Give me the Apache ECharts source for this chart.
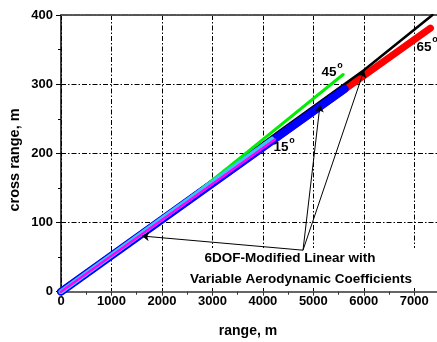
<!DOCTYPE html>
<html><head><meta charset="utf-8">
<script src="https://cdn.jsdelivr.net/npm/echarts@6/dist/echarts.min.js"></script>
<style>html,body{margin:0;padding:0;background:#fff}#c{width:437px;height:342px}</style>
</head><body><div id="c"></div>
<script>
// Data (range m, cross range m)
const redLine = [[0,0],[7320,381]];
const blackLine = [[0,0],[4300,231],[5600,299],[6000,320],[7360,400]];
const blueLine = [[0,0],[5620,293]];
const greenLine = [[0,0],[2500,132],[3745,205],[5590,314]];
const cyanLine = [[0,0],[4180,220.5]];
const magentaLine = [[0,0],[4240,220]];
const annotVertex = [4795,60];
const annotTargets = [[1605,80.5],[5132,270],[6004,320]];
const xTicks = [0,1000,2000,3000,4000,5000,6000,7000];
const yTicks = [0,100,200,300,400];

const font = '"Liberation Sans", Arial, sans-serif';
const chart = echarts.init(document.getElementById('c'), null, {renderer:'canvas'});
const grid = {left:61, top:15, width:376, height:276.7};
const dashDot = [5,2,1.5,2];
function ln(data,color,w,z){return {type:'line',data:data,showSymbol:false,symbol:'none',animation:false,z:z,
  lineStyle:{color:color,width:w,cap:'round',join:'round'}};}
chart.setOption({
  animation:false,
  grid:grid,
  xAxis:[{type:'value',min:0,max:7450,interval:1000,
    axisLine:{lineStyle:{color:'#666',width:2}},
    axisTick:{inside:false,length:4,lineStyle:{color:'#333',width:1}},
    minorTick:{show:true,splitNumber:2,length:3,lineStyle:{color:'#333'}},
    axisLabel:{margin:3,showMaxLabel:false,fontFamily:font,fontWeight:'bold',fontSize:13,color:'#000',
      formatter:v=>xTicks.includes(v)?String(v):''},
    splitLine:{show:true,lineStyle:{color:'#000',width:1,type:dashDot}}},
   {type:'value',position:'top',min:0,max:7450,interval:1000,
    axisLine:{show:true,lineStyle:{color:'#555',width:2,type:[7,1.5,2,1.5]}},
    axisTick:{show:false},axisLabel:{show:false},splitLine:{show:false}}],
  yAxis:{type:'value',min:0,max:400,interval:100,
    axisLine:{show:true,lineStyle:{color:'#000',width:1.5}},
    axisTick:{show:true,inside:false,length:5,lineStyle:{color:'#000'}},
    minorTick:{show:true,splitNumber:2,length:3,lineStyle:{color:'#000'}},
    axisLabel:{margin:8,fontFamily:font,fontWeight:'bold',fontSize:13,color:'#000',
      formatter:v=>yTicks.includes(v)?String(v):''},
    splitLine:{show:true,lineStyle:{color:'#000',width:1,type:dashDot}}},
  series:[
    ln(redLine,'#ff0000',7,3),
    ln(blackLine,'#000000',2.5,4),
    ln(blueLine,'#0000ff',8,5),
    ln(greenLine,'#00ee00',3,6),
    ln(cyanLine,'#33c6f4',5,7),
    ln(magentaLine,'#ff00ff',2.5,8),
    {type:'lines',coordinateSystem:'cartesian2d',polyline:false,animation:false,z:10,
     symbol:['none','arrow'],symbolSize:7,
     lineStyle:{color:'#000',width:1,opacity:1},
     data:annotTargets.map(t=>({coords:[annotVertex,t]}))}
  ],
  graphic:[
    {type:'rect',z:1,shape:{x:188,y:248,width:232,height:39},style:{fill:'#fff'}},
    {type:'text',z:20,x:290,y:258,style:{text:'6DOF-Modified Linear with',font:'bold 13.5px '+font,fill:'#000',align:'center',verticalAlign:'middle'}},
    {type:'text',z:20,x:301,y:279,style:{text:'Variable Aerodynamic Coefficients',font:'bold 13.5px '+font,fill:'#000',align:'center',verticalAlign:'middle'}},
    {type:'text',z:20,x:329,y:72,style:{text:'45',font:'bold 13.5px '+font,fill:'#000',align:'center',verticalAlign:'middle'}},
    {type:'text',z:20,x:340,y:66,style:{text:'o',font:'bold 9px '+font,fill:'#000',align:'center',verticalAlign:'middle'}},
    {type:'text',z:20,x:281,y:147,style:{text:'15',font:'bold 13.5px '+font,fill:'#000',align:'center',verticalAlign:'middle'}},
    {type:'text',z:20,x:292,y:141,style:{text:'o',font:'bold 9px '+font,fill:'#000',align:'center',verticalAlign:'middle'}},
    {type:'text',z:20,x:424,y:47,style:{text:'65',font:'bold 13.5px '+font,fill:'#000',align:'center',verticalAlign:'middle'}},
    {type:'text',z:20,x:435,y:40,style:{text:'o',font:'bold 9px '+font,fill:'#000',align:'center',verticalAlign:'middle'}},
    {type:'text',z:20,x:248,y:331,style:{text:'range, m',font:'bold 14px '+font,fill:'#000',align:'center',verticalAlign:'middle'}},
    {type:'text',z:20,x:15,y:160,rotation:Math.PI/2,style:{text:'cross range, m',font:'bold 14.5px '+font,fill:'#000',align:'center',verticalAlign:'middle'}}
  ]
});
</script></body></html>
